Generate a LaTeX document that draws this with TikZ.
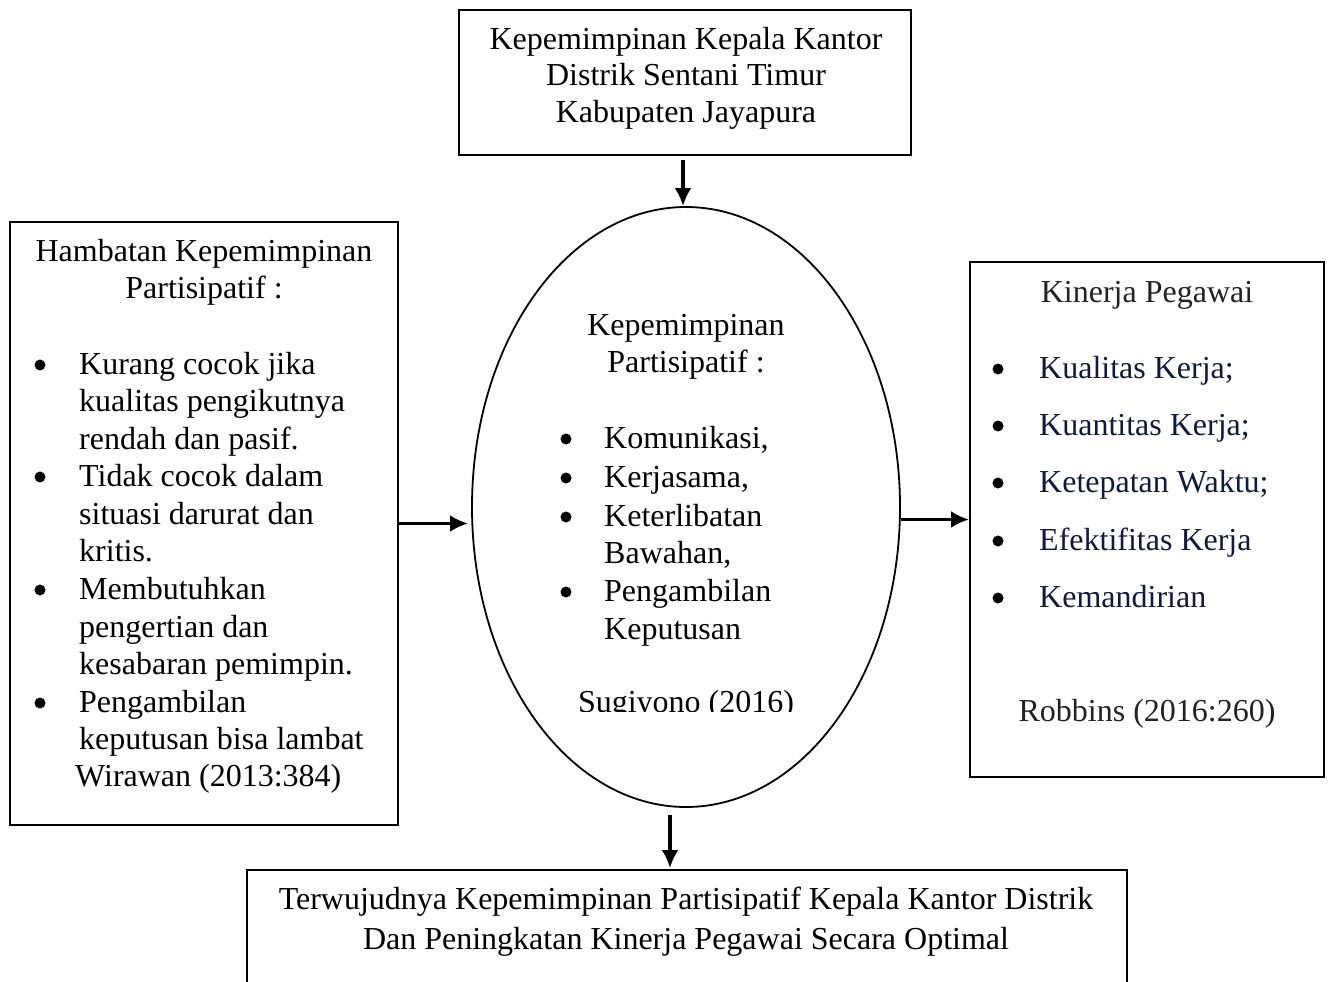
\documentclass[tikz,border=0pt]{standalone}
\usepackage{fontspec}
\setmainfont{Liberation Serif}
\usepackage{xcolor}
\usetikzlibrary{shapes.geometric, arrows.meta}

\definecolor{navy}{RGB}{16,25,62}
\definecolor{tinta}{RGB}{34,34,34}

\begin{document}
\begin{tikzpicture}[x=1pt, y=-1pt, >={Latex[length=18pt,width=17pt]},
  every node/.style={font=\fontsize{32}{37.5}\selectfont, inner sep=0pt},
  kotak/.style={draw, line width=1.8pt, rectangle},
  kiri/.style={anchor=base west},
  tengah/.style={anchor=base},
  titik/.style={circle, fill, minimum size=11pt},
  panah/.style={->, line width=3.6pt}]
  \clip (0,0) rectangle (1330,982);
  % kotak atas
  \node[kotak, minimum width=452pt, minimum height=145pt] (kepala) at (685,82.5) {};
  \node[tengah] (k1) at (686,49) {Kepemimpinan Kepala Kantor};
  \node[tengah] (k2) at (686,85) {Distrik Sentani Timur};
  \node[tengah] (k3) at (686,122) {Kabupaten Jayapura};
  % elips tengah
  \node[draw, ellipse, line width=1.8pt, minimum width=428pt, minimum height=600pt] (partisipatif) at (686,507) {};
  \node[tengah] (p1) at (686,335) {Kepemimpinan};
  \node[tengah] (p2) at (686,372) {Partisipatif :};
  \node[titik] (pb1) at (566,439) {};
  \node[kiri] (pi1) at (604,448) {Komunikasi,};
  \node[titik] (pb2) at (566,478) {};
  \node[kiri] (pi2) at (604,487) {Kerjasama,};
  \node[titik] (pb3) at (566,517) {};
  \node[kiri] (pi3) at (604,526) {Keterlibatan};
  \node[kiri] (pi4) at (604,563) {Bawahan,};
  \node[titik] (pb4) at (566,592) {};
  \node[kiri] (pi5) at (604,601) {Pengambilan};
  \node[kiri] (pi6) at (604,639) {Keputusan};
  \begin{scope}
    \clip (560,660) rectangle (810,711);
    \node[tengah] (sumber1) at (686,712) {Sugiyono (2016)};
  \end{scope}
  % kotak kiri
  \node[kotak, minimum width=388pt, minimum height=603pt] (hambatan) at (204,523.5) {};
  \node[tengah] (h1) at (204,261) {Hambatan Kepemimpinan};
  \node[tengah] (h2) at (204,298) {Partisipatif :};
  \node[titik] (hb1) at (40,365) {};
  \node[kiri] (hi1) at (79,374) {Kurang cocok jika};
  \node[kiri] (hi2) at (79,411) {kualitas pengikutnya};
  \node[kiri] (hi3) at (79,449) {rendah dan pasif.};
  \node[titik] (hb2) at (40,477) {};
  \node[kiri] (hi4) at (79,486) {Tidak cocok dalam};
  \node[kiri] (hi5) at (79,524) {situasi darurat dan};
  \node[kiri] (hi6) at (79,561) {kritis.};
  \node[titik] (hb3) at (40,590) {};
  \node[kiri] (hi7) at (79,599) {Membutuhkan};
  \node[kiri] (hi8) at (79,637) {pengertian dan};
  \node[kiri] (hi9) at (79,674) {kesabaran pemimpin.};
  \node[titik] (hb4) at (40,703) {};
  \node[kiri] (hi10) at (79,712) {Pengambilan};
  \node[kiri] (hi11) at (79,749) {keputusan bisa lambat};
  \node[kiri] (sumber2) at (75,786) {Wirawan (2013:384)};
  % kotak kanan
  \node[kotak, minimum width=354pt, minimum height=515pt] (kinerja) at (1147,519.5) {};
  \node[tengah, tinta] (r1) at (1147,302) {Kinerja Pegawai};
  \node[titik] (rb1) at (998,369) {};
  \node[kiri, navy] (ri1) at (1039,378) {Kualitas Kerja;};
  \node[titik] (rb2) at (998,426) {};
  \node[kiri, navy] (ri2) at (1039,435) {Kuantitas Kerja;};
  \node[titik] (rb3) at (998,483) {};
  \node[kiri, navy] (ri3) at (1039,492) {Ketepatan Waktu;};
  \node[titik] (rb4) at (998,541) {};
  \node[kiri, navy] (ri4) at (1039,550) {Efektifitas Kerja};
  \node[titik] (rb5) at (998,598) {};
  \node[kiri, navy] (ri5) at (1039,607) {Kemandirian};
  \node[tengah, tinta] (sumber3) at (1147,721) {Robbins (2016:260)};
  % kotak bawah
  \node[kotak, minimum width=880pt, minimum height=160pt] (hasil) at (687,950) {};
  \node[tengah] (b1) at (686,909) {Terwujudnya Kepemimpinan Partisipatif Kepala Kantor Distrik};
  \node[tengah] (b2) at (686,949) {Dan Peningkatan Kinerja Pegawai Secara Optimal};
  % panah
  \coordinate (atas) at (683,160);
  \coordinate (bawah) at (670,815);
  \draw[panah] (atas) -- (atas |- partisipatif.north);
  \draw[panah, shorten >=3pt] (hambatan.east) -- (hambatan.east -| partisipatif.west);
  \draw[panah] (kinerja.west -| partisipatif.east) -- (kinerja.west);
  \draw[panah, shorten >=1pt] (bawah) -- (bawah |- hasil.north);
\end{tikzpicture}
\end{document}
